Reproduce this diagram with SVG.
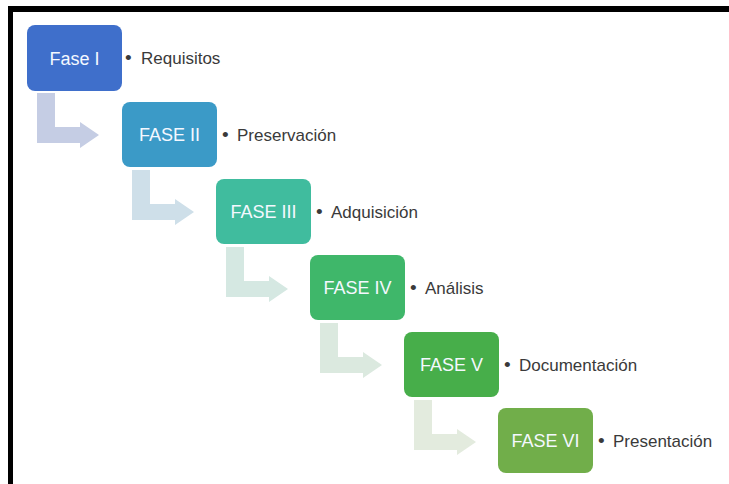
<svg xmlns="http://www.w3.org/2000/svg" width="729" height="484" viewBox="0 0 729 484">
<style>
.name{font-family:"Liberation Sans",Arial,sans-serif;font-size:18px;fill:#f4f8ff;text-anchor:middle}
.lbl{font-family:"Liberation Sans",Arial,sans-serif;font-size:17px;fill:#3a3a3a;text-anchor:start}
.lbl .b{font-size:19px}
</style>
<rect x="0" y="0" width="729" height="484" fill="#ffffff"/>
<rect x="8" y="6" width="721" height="6" fill="#000"/>
<rect x="8" y="6" width="5" height="478" fill="#000"/>
<g id="connectors">
<path d="M37,93 H55 V127 H80 V122 L99,135 L80,148 V143 H37 Z" fill="#c5cde4"/>
<path d="M132,170 H150 V204 H175 V199 L194,212 L175,225 V220 H132 Z" fill="#cedfe9"/>
<path d="M226,247 H244 V281 H269 V276 L288,289 L269,302 V297 H226 Z" fill="#d5e8e2"/>
<path d="M320,323 H338 V357 H363 V352 L382,365 L363,378 V373 H320 Z" fill="#dbe9df"/>
<path d="M414,400 H432 V434 H457 V429 L476,442 L457,455 V450 H414 Z" fill="#e3ebde"/>
</g>
<g id="fase1">
<rect x="27" y="25" width="95" height="66" rx="8" fill="#3f6fcb"/>
<text class="name" x="74.5" y="64.5">Fase I</text>
<text class="lbl" x="125" y="64"><tspan class="b">•</tspan><tspan x="141">Requisitos</tspan></text>
</g>
<g id="fase2">
<rect x="122" y="102" width="95" height="65" rx="8" fill="#3b9ac7"/>
<text class="name" x="169.5" y="141">FASE II</text>
<text class="lbl" x="222" y="141"><tspan class="b">•</tspan><tspan x="237">Preservación</tspan></text>
</g>
<g id="fase3">
<rect x="216" y="179" width="95" height="65" rx="8" fill="#40bc9e"/>
<text class="name" x="263.5" y="218">FASE III</text>
<text class="lbl" x="316" y="218"><tspan class="b">•</tspan><tspan x="331">Adquisición</tspan></text>
</g>
<g id="fase4">
<rect x="310" y="255" width="95" height="65" rx="8" fill="#3fb76a"/>
<text class="name" x="357.5" y="294">FASE IV</text>
<text class="lbl" x="410" y="294"><tspan class="b">•</tspan><tspan x="425">Análisis</tspan></text>
</g>
<g id="fase5">
<rect x="404" y="332" width="95" height="65" rx="8" fill="#47ae4a"/>
<text class="name" x="451.5" y="371">FASE V</text>
<text class="lbl" x="504" y="371"><tspan class="b">•</tspan><tspan x="519">Documentación</tspan></text>
</g>
<g id="fase6">
<rect x="498" y="408" width="95" height="65" rx="8" fill="#71ae4a"/>
<text class="name" x="545.5" y="447">FASE VI</text>
<text class="lbl" x="598" y="447"><tspan class="b">•</tspan><tspan x="613">Presentación</tspan></text>
</g>
</svg>
